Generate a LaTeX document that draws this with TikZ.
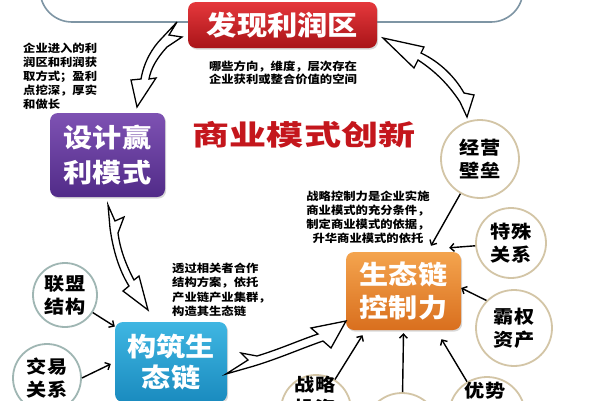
\documentclass[tikz,border=0pt]{standalone}
\usepackage{graphicx}
\usepackage{fontspec}
\newfontfamily\cjk[FakeStretch=1.12]{Noto Sans CJK SC}
\usetikzlibrary{arrows.meta,shadows}
\definecolor{redtop}{HTML}{E5383C}
\definecolor{redbot}{HTML}{A91418}
\definecolor{purtop}{HTML}{7E52B3}
\definecolor{purbot}{HTML}{512B88}
\definecolor{ortop}{HTML}{F4A44E}
\definecolor{orbot}{HTML}{D96F1E}
\definecolor{bltop}{HTML}{3FB6E2}
\definecolor{blbot}{HTML}{1A8BBF}
\definecolor{titlered}{HTML}{C4161C}
\definecolor{ringtan}{HTML}{D3C5A6}
\definecolor{ringgrey}{HTML}{9FB6B3}
\definecolor{topline}{HTML}{7E95A4}
\begin{document}
\begin{tikzpicture}[x=1pt,y=-1pt,
  bigbox/.style={rounded corners=8pt, text=white, align=center, inner sep=0pt,
    drop shadow={opacity=0.3,shadow xshift=1.2pt,shadow yshift=-1.6pt}},
  ring/.style={circle, draw=#1, line width=1.8pt, fill=white, inner sep=0pt,
    align=center, font=\cjk\bfseries\fontsize{18}{23}\selectfont},
  ring/.default=ringtan,
  ringtext/.style={inner sep=0pt, align=center, font=\cjk\bfseries\fontsize{18}{23}\selectfont},
  note/.style={inner sep=0pt, font=\cjk\bfseries\fontsize{11}{14}\selectfont},
  thinarrow/.style={line width=1.4pt, -{Straight Barb[length=4pt,width=8pt]}},
  bolt/.style={draw=black, line width=1.3pt, fill=white, line join=miter, miter limit=8},
]
\useasboundingbox (0,0) rectangle (589,400);
\clip (0,0) rectangle (589,400);
\fill[white] (0,0) rectangle (589,400);

% top outline
\draw[topline, line width=1.6pt, rounded corners=32pt] (40,-90) rectangle (523,22);

% main boxes
\node[bigbox, top color=redtop, bottom color=redbot, minimum width=189pt, minimum height=46pt,
  font=\cjk\bfseries\fontsize{27}{33}\selectfont] (find) at (282.5,25) {发现利润区};
\node[bigbox, top color=purtop, bottom color=purbot, minimum width=115pt, minimum height=84pt,
  font=\cjk\bfseries\fontsize{26}{35}\selectfont] (design) at (107.5,155) {设计赢\\利模式};
\node[bigbox, top color=ortop, bottom color=orbot, minimum width=115pt, minimum height=78pt,
  font=\cjk\bfseries\fontsize{26}{33}\selectfont] (ctrl) at (403.5,291) {生态链\\控制力};
\node[bigbox, top color=bltop, bottom color=blbot, minimum width=112pt, minimum height=80pt,
  font=\cjk\bfseries\fontsize{26}{31}\selectfont] (build) at (171,362) {构筑生\\态链};

% title
\node[inner sep=0pt, text=titlered, font=\cjk\bfseries\fontsize{28}{28}\selectfont] (title)
  at (304,135) {\scalebox{1.18}[1]{商业模式创新}};

% notes
\node[note, align=center, font=\cjk\bfseries\fontsize{11}{13}\selectfont] (n1) at (283,72.5)
  {哪些方向，维度，层次存在\\企业获利或整合价值的空间};
\node[note, align=left, anchor=west] (n2) at (23,76.5)
  {企业进入的利\\润区和利润获\\取方式；盈利\\点挖深，厚实\\和做长};
\node[note, align=center] (n3) at (368,217)
  {战略控制力是企业实施\\商业模式的充分条件，\\制定商业模式的依据，\\升华商业模式的依托};
\node[note, align=left, anchor=west, font=\cjk\bfseries\fontsize{11}{14.5}\selectfont] (n4) at (172,290)
  {透过相关者合作\\结构方案，依托\\产业链产业集群，\\构造其生态链};

% circles
\node[ring, minimum size=78pt] (jybl) at (480,159) {经营\\壁垒};
\node[ring, minimum size=70pt] (tsgx) at (511,243) {特殊\\关系};
\node[ring, minimum size=76pt] (bqzc) at (514,328) {霸权\\资产};
\node[ring, minimum size=76pt] (yscirc) at (487,415) {};
\node[ringtext] (ystext) at (485,391) {优势};
\node[ring, minimum size=74pt] (midcirc) at (402,430) {};
\node[ring, minimum size=70pt] (zlcirc) at (316,410) {};
\node[ringtext] (zltext) at (315,396.5) {战略\\投资};
\node[ring=ringgrey, minimum size=64pt] (lmjg) at (65,295) {联盟\\结构};
\node[ring=ringgrey, minimum size=68pt] (jygx) at (47,378) {交易\\关系};

% thin arrows
\draw[thinarrow] (lmjg) -- (build);
\draw[thinarrow] (jygx.east) -- ([xshift=-4pt,yshift=-2pt]build.west);
\draw[thinarrow] (jybl) -- ([xshift=27.5pt,yshift=6pt]ctrl.north);
\draw[thinarrow] (tsgx) -- ([xshift=-12pt,yshift=4pt]ctrl.north east);
\draw[thinarrow] (bqzc.135) -- ([yshift=3pt]ctrl.east);
\draw[thinarrow] (yscirc) -- ([xshift=38pt,yshift=-9pt]ctrl.south);
\draw[thinarrow] (midcirc) -- ([yshift=-3pt]ctrl.south);
\draw[thinarrow] (zlcirc) -- ([xshift=-41pt,yshift=-5pt]ctrl.south);

% lightning arrows
\coordinate (b1t) at (177,22);  \coordinate (b1h) at (137,107);
\coordinate (b2t) at (108,205); \coordinate (b2h) at (148,310);
\coordinate (b3t) at (226,374); \coordinate (b3h) at (346,321);
\coordinate (b4t) at (467,117); \coordinate (b4h) at (383,38);

\draw[bolt] (b1t) -- (169,35) -- (182,37) -- (167,47) .. controls (157,58) and (151,68) .. (149,79)
  -- (156,78) -- (b1h) -- (131,80) -- (141,79) .. controls (144,62) and (152,48) .. (162,38) -- cycle;
\draw[bolt] (b2t) -- (110,228) .. controls (113,250) and (119,270) .. (129,286) -- (123,291)
  -- (b2h) -- (139,276) -- (134,280) .. controls (126,265) and (120,249) .. (118,233)
  -- (124,217) -- (115,221) -- cycle;
\draw[bolt] (b3t) -- (248,360) -- (241,353) -- (257,356) .. controls (280,349) and (300,340) .. (318,334)
  -- (311,328) -- (b3h) -- (331,348) -- (323,341) .. controls (300,349) and (280,358) .. (254,366) -- cycle;
\draw[bolt] (b4h) -- (424,47) -- (421,53) .. controls (440,62) and (455,77) .. (464,93) -- (474,95)
  -- (b4t) -- (460,102) .. controls (449,85) and (435,71) .. (418,60) -- (414,68) -- cycle;
\end{tikzpicture}
\end{document}
